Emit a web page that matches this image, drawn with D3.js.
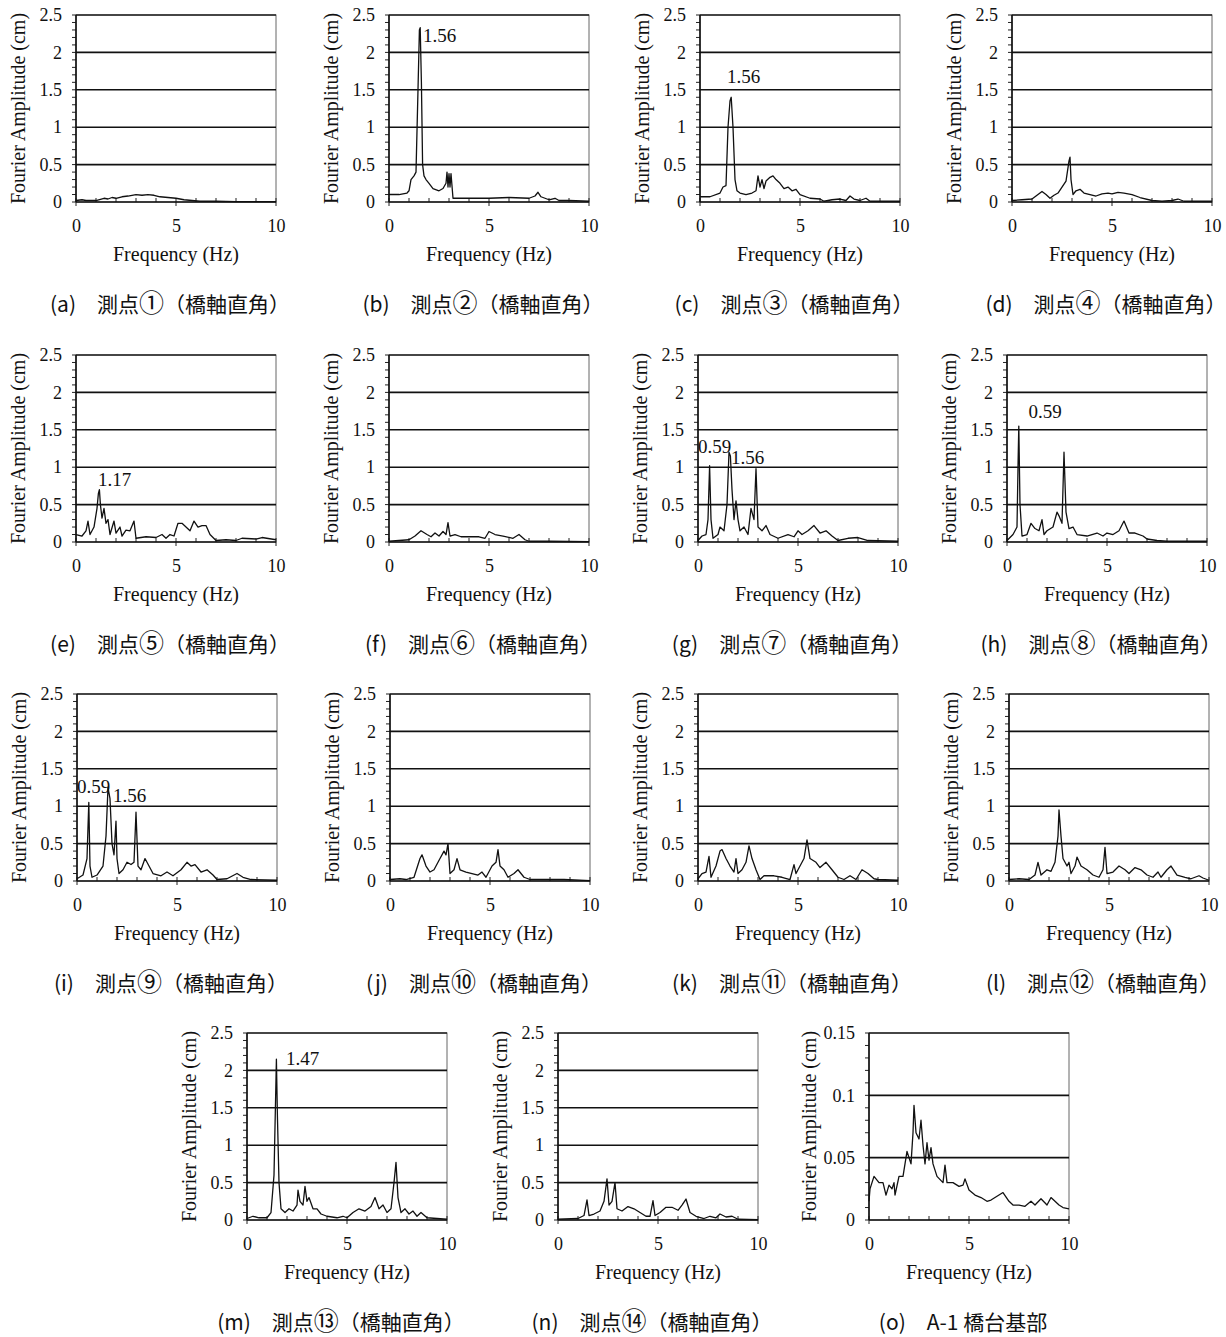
<!DOCTYPE html>
<html><head><meta charset="utf-8">
<script src="https://cdn.jsdelivr.net/npm/d3@7"></script>
<style>body{margin:0;background:#fff} svg{display:block}</style>
</head><body><svg id="c" width="1226" height="1337"></svg>
<script>
// ---- data: [frequency (Hz), Fourier amplitude (cm)] ----
const seriesA = [[0,0.02],[0.3,0.03],[0.5,0.02],[1,0.02],[1.4,0.05],[1.6,0.04],[1.8,0.06],[2,0.05],[2.3,0.07],[2.6,0.08],[3,0.1],[3.3,0.09],[3.6,0.1],[3.9,0.09],[4.2,0.07],[4.6,0.06],[5,0.05],[5.4,0.03],[5.8,0.02],[6.2,0.01],[7,0.01],[8,0.005],[9,0.005],[10,0.005]];
const seriesB = [[0,0.1],[0.5,0.1],[0.9,0.12],[1.0,0.15],[1.1,0.3],[1.25,0.35],[1.35,0.4],[1.45,1.5],[1.52,2.3],[1.56,2.33],[1.62,1.6],[1.68,0.5],[1.75,0.35],[1.85,0.3],[2.0,0.25],[2.2,0.18],[2.5,0.15],[2.7,0.18],[2.85,0.25],[2.9,0.4],[2.95,0.2],[3.0,0.38],[3.05,0.2],[3.1,0.38],[3.2,0.05],[3.5,0.05],[4,0.05],[5,0.05],[6,0.06],[7,0.05],[7.3,0.08],[7.45,0.13],[7.6,0.07],[8,0.03],[8.3,0.05],[8.5,0.02],[9,0.02],[10,0.01]];
const seriesC = [[0,0.07],[0.5,0.07],[1.0,0.12],[1.15,0.2],[1.3,0.22],[1.4,1.0],[1.5,1.35],[1.56,1.4],[1.65,1.0],[1.75,0.3],[1.85,0.15],[2,0.12],[2.3,0.1],[2.6,0.12],[2.8,0.15],[2.9,0.35],[3.0,0.2],[3.1,0.3],[3.2,0.18],[3.3,0.28],[3.5,0.33],[3.65,0.35],[3.8,0.3],[4.0,0.25],[4.2,0.18],[4.4,0.2],[4.6,0.15],[4.8,0.17],[5,0.1],[5.5,0.05],[6,0.04],[6.2,0.01],[6.6,0.03],[7.0,0.04],[7.3,0.02],[7.5,0.08],[7.7,0.04],[8,0.02],[8.3,0.05],[8.5,0.01],[9,0.01],[10,0.01]];
const seriesD = [[0,0.02],[0.5,0.03],[1,0.04],[1.2,0.08],[1.5,0.14],[1.7,0.1],[1.9,0.05],[2.1,0.09],[2.3,0.12],[2.5,0.2],[2.7,0.28],[2.85,0.55],[2.9,0.6],[2.95,0.3],[3.05,0.1],[3.2,0.15],[3.4,0.17],[3.6,0.12],[3.9,0.1],[4.2,0.08],[4.5,0.11],[4.8,0.12],[5,0.11],[5.3,0.13],[5.6,0.12],[6,0.1],[6.4,0.06],[7,0.02],[7.5,0.01],[8,0.02],[8.3,0.04],[8.6,0.01],[10,0.01]];
const seriesE = [[0,0.1],[0.3,0.08],[0.5,0.15],[0.6,0.28],[0.7,0.1],[0.9,0.2],[1.05,0.45],[1.12,0.65],[1.17,0.7],[1.22,0.5],[1.3,0.32],[1.4,0.45],[1.5,0.25],[1.6,0.3],[1.7,0.1],[1.9,0.28],[2.0,0.12],[2.2,0.2],[2.3,0.08],[2.5,0.16],[2.7,0.15],[2.9,0.28],[3.0,0.05],[3.5,0.07],[4,0.06],[4.3,0.1],[4.5,0.05],[4.7,0.1],[4.9,0.08],[5.1,0.25],[5.3,0.25],[5.5,0.2],[5.7,0.15],[5.9,0.28],[6.1,0.2],[6.3,0.22],[6.5,0.22],[6.7,0.1],[7,0.02],[7.5,0.03],[8,0.02],[8.3,0.05],[9,0.04],[9.3,0.06],[10,0.03]];
const seriesF = [[0,0.01],[1,0.03],[1.3,0.08],[1.6,0.15],[1.9,0.1],[2.1,0.07],[2.3,0.12],[2.5,0.08],[2.7,0.14],[2.85,0.1],[2.95,0.26],[3.05,0.08],[3.3,0.1],[3.6,0.07],[4,0.07],[4.5,0.07],[4.8,0.05],[5.0,0.14],[5.3,0.1],[5.7,0.08],[6.2,0.05],[6.5,0.1],[6.8,0.03],[7,0.01],[8,0.01],[10,0.005]];
const seriesG = [[0,0.02],[0.2,0.08],[0.4,0.1],[0.5,0.3],[0.58,1.02],[0.65,0.3],[0.75,0.05],[1.0,0.1],[1.1,0.2],[1.3,0.15],[1.45,0.5],[1.55,1.2],[1.62,1.15],[1.7,0.7],[1.8,0.3],[1.9,0.55],[2.0,0.3],[2.1,0.15],[2.3,0.2],[2.5,0.1],[2.65,0.45],[2.8,0.3],[2.9,0.98],[3.0,0.2],[3.2,0.15],[3.4,0.22],[3.6,0.1],[4,0.05],[4.5,0.1],[4.8,0.07],[5.0,0.15],[5.2,0.1],[5.5,0.15],[5.8,0.22],[6.1,0.12],[6.4,0.15],[6.7,0.08],[7,0.02],[7.5,0.05],[8,0.06],[8.5,0.02],[10,0.01]];
const seriesH = [[0,0.02],[0.3,0.1],[0.5,0.2],[0.55,1.0],[0.59,1.55],[0.65,0.5],[0.75,0.08],[1.0,0.1],[1.2,0.25],[1.4,0.18],[1.6,0.15],[1.75,0.3],[1.85,0.1],[2.0,0.15],[2.3,0.2],[2.5,0.4],[2.6,0.35],[2.75,0.25],[2.85,1.2],[2.95,0.4],[3.1,0.18],[3.3,0.2],[3.5,0.1],[4,0.08],[4.5,0.12],[4.8,0.08],[5.0,0.12],[5.3,0.1],[5.6,0.15],[5.85,0.28],[6.1,0.12],[6.4,0.12],[6.8,0.08],[7,0.04],[7.5,0.02],[8,0.01],[10,0.01]];
const seriesI = [[0,0.03],[0.3,0.08],[0.5,0.3],[0.59,1.05],[0.65,0.2],[0.75,0.05],[1.0,0.08],[1.3,0.2],[1.45,0.6],[1.55,1.25],[1.65,1.1],[1.75,0.5],[1.85,0.35],[1.95,0.8],[2.0,0.3],[2.1,0.1],[2.3,0.15],[2.5,0.25],[2.7,0.22],[2.85,0.25],[2.95,0.92],[3.05,0.2],[3.2,0.15],[3.4,0.3],[3.6,0.2],[3.8,0.1],[4.2,0.07],[4.5,0.12],[4.8,0.07],[5.2,0.15],[5.5,0.25],[5.7,0.2],[5.9,0.22],[6.2,0.12],[6.5,0.15],[6.8,0.08],[7,0.02],[7.5,0.03],[8,0.1],[8.3,0.05],[8.7,0.02],[10,0.01]];
const seriesJ = [[0,0.02],[0.5,0.03],[0.8,0.02],[1.2,0.05],[1.5,0.3],[1.6,0.35],[1.8,0.2],[2.0,0.12],[2.2,0.15],[2.5,0.3],[2.7,0.4],[2.8,0.35],[2.9,0.5],[3.0,0.1],[3.2,0.15],[3.35,0.3],[3.5,0.15],[3.8,0.12],[4.1,0.1],[4.4,0.08],[4.6,0.12],[4.8,0.05],[5.1,0.2],[5.3,0.25],[5.4,0.42],[5.5,0.2],[5.7,0.15],[5.9,0.05],[6.2,0.1],[6.4,0.15],[6.7,0.05],[7,0.02],[7.5,0.02],[8,0.02],[8.7,0.02],[10,0.005]];
const seriesK = [[0,0.03],[0.2,0.1],[0.4,0.12],[0.55,0.33],[0.65,0.05],[0.9,0.2],[1.1,0.4],[1.2,0.42],[1.4,0.3],[1.6,0.2],[1.8,0.12],[1.9,0.3],[2.0,0.1],[2.2,0.15],[2.4,0.25],[2.55,0.47],[2.7,0.3],[2.9,0.15],[3.1,0.02],[3.3,0.07],[3.8,0.07],[4.2,0.05],[4.6,0.02],[4.8,0.22],[4.9,0.1],[5.1,0.2],[5.3,0.3],[5.45,0.55],[5.6,0.3],[5.9,0.25],[6.1,0.18],[6.4,0.25],[6.7,0.15],[7,0.05],[7.3,0.02],[7.6,0.07],[7.9,0.02],[8.2,0.15],[8.5,0.1],[8.8,0.03],[9,0.02],[10,0.01]];
const seriesL = [[0,0.02],[0.5,0.03],[1,0.02],[1.3,0.08],[1.45,0.25],[1.6,0.08],[1.9,0.15],[2.1,0.13],[2.3,0.25],[2.45,0.6],[2.5,0.95],[2.6,0.6],[2.7,0.3],[2.9,0.2],[3.0,0.25],[3.1,0.1],[3.3,0.2],[3.4,0.32],[3.6,0.2],[3.9,0.15],[4.2,0.08],[4.5,0.05],[4.7,0.15],[4.8,0.45],[4.9,0.1],[5.2,0.12],[5.5,0.2],[5.8,0.15],[6,0.1],[6.3,0.18],[6.6,0.15],[6.9,0.08],[7.2,0.05],[7.45,0.12],[7.6,0.05],[7.9,0.15],[8.1,0.2],[8.4,0.08],[8.8,0.05],[9.1,0.03],[9.5,0.07],[9.7,0.04],[10,0.01]];
const seriesM = [[0,0.02],[0.3,0.05],[0.6,0.03],[1.0,0.03],[1.2,0.1],[1.35,0.6],[1.42,1.5],[1.47,2.15],[1.52,1.4],[1.6,0.5],[1.7,0.15],[1.9,0.1],[2.1,0.15],[2.3,0.12],[2.5,0.2],[2.55,0.4],[2.65,0.25],[2.8,0.2],[2.9,0.45],[3.0,0.25],[3.1,0.3],[3.3,0.15],[3.5,0.15],[3.7,0.08],[4,0.05],[4.5,0.03],[4.8,0.05],[5,0.03],[5.3,0.1],[5.6,0.15],[5.9,0.12],[6.2,0.18],[6.4,0.3],[6.6,0.15],[6.8,0.2],[7.0,0.1],[7.2,0.15],[7.35,0.5],[7.45,0.77],[7.55,0.3],[7.7,0.1],[7.9,0.15],[8.1,0.08],[8.3,0.12],[8.5,0.05],[8.7,0.1],[9,0.03],[9.5,0.02],[10,0.01]];
const seriesN = [[0,0.01],[1,0.02],[1.3,0.06],[1.45,0.27],[1.55,0.06],[1.8,0.08],[2.1,0.12],[2.3,0.25],[2.45,0.55],[2.55,0.2],[2.7,0.25],[2.85,0.5],[2.95,0.15],[3.2,0.12],[3.5,0.18],[3.8,0.15],[4.1,0.1],[4.4,0.05],[4.6,0.05],[4.75,0.26],[4.85,0.06],[5.1,0.1],[5.4,0.17],[5.7,0.17],[6,0.13],[6.2,0.2],[6.4,0.28],[6.6,0.1],[6.9,0.05],[7.3,0.02],[7.6,0.05],[7.9,0.03],[8.1,0.08],[8.4,0.04],[8.7,0.05],[9,0.01],[10,0.005]];
const seriesO = [[0,0.015],[0.05,0.025],[0.15,0.03],[0.25,0.035],[0.5,0.03],[0.7,0.03],[0.85,0.02],[1.0,0.028],[1.15,0.025],[1.25,0.03],[1.3,0.02],[1.5,0.035],[1.7,0.035],[1.8,0.045],[1.9,0.055],[2.0,0.05],[2.1,0.045],[2.2,0.07],[2.25,0.092],[2.35,0.07],[2.5,0.065],[2.6,0.08],[2.7,0.06],[2.8,0.045],[2.9,0.062],[3.0,0.048],[3.1,0.058],[3.2,0.045],[3.4,0.035],[3.7,0.03],[3.8,0.044],[3.9,0.03],[4.2,0.03],[4.5,0.027],[4.7,0.028],[4.8,0.033],[5.0,0.024],[5.3,0.02],[5.6,0.018],[5.9,0.015],[6.1,0.016],[6.3,0.018],[6.7,0.022],[7.0,0.015],[7.2,0.012],[7.5,0.012],[7.8,0.011],[8.1,0.015],[8.3,0.012],[8.6,0.017],[8.9,0.012],[9.1,0.018],[9.3,0.015],[9.5,0.012],[9.7,0.01],[10,0.009]];

// captions: [prefix, circled number, suffix]
const captions = [["(a)　測点","①","（橋軸直角）"],["(b)　測点","②","（橋軸直角）"],["(c)　測点","③","（橋軸直角）"],["(d)　測点","④","（橋軸直角）"],
  ["(e)　測点","⑤","（橋軸直角）"],["(f)　測点","⑥","（橋軸直角）"],["(g)　測点","⑦","（橋軸直角）"],["(h)　測点","⑧","（橋軸直角）"],
  ["(i)　測点","⑨","（橋軸直角）"],["(j)　測点","⑩","（橋軸直角）"],["(k)　測点","⑪","（橋軸直角）"],["(l)　測点","⑫","（橋軸直角）"],
  ["(m)　測点","⑬","（橋軸直角）"],["(n)　測点","⑭","（橋軸直角）"],["(o)　A-1 橋台基部","",""]];
// peak labels: [text, frequency, amplitude] of label's left baseline
const peakLabels = {b:[["1.56",1.7,2.14]], c:[["1.56",1.35,1.59]], e:[["1.17",1.1,0.75]],
  g:[["0.59",0.0,1.19],["1.56",1.65,1.04]], h:[["0.59",1.07,1.66]], i:[["0.59",0.0,1.18],["1.56",1.8,1.05]], m:[["1.47",1.95,2.07]]};
const yTicksMain = [0,0.5,1,1.5,2,2.5];
const yTicksBase = [0,0.05,0.1,0.15];
const xTicks = [0,5,10];
const yTitle = "Fourier Amplitude (cm)";
const xTitle = "Frequency (Hz)";

const seriesByKey = {a:seriesA,b:seriesB,c:seriesC,d:seriesD,e:seriesE,f:seriesF,g:seriesG,h:seriesH,i:seriesI,j:seriesJ,k:seriesK,l:seriesL,m:seriesM,n:seriesN,o:seriesO};

// ---- layout ----
const W = 200, H = 187;
const layout = [
  {k:'a',x:76,y:15},{k:'b',x:389,y:15},{k:'c',x:700,y:15},{k:'d',x:1012,y:15},
  {k:'e',x:76,y:355},{k:'f',x:389,y:355},{k:'g',x:698,y:355},{k:'h',x:1007,y:355},
  {k:'i',x:77,y:694},{k:'j',x:390,y:694},{k:'k',x:698,y:694},{k:'l',x:1009,y:694},
  {k:'m',x:247,y:1033},{k:'n',x:558,y:1033},{k:'o',x:869,y:1033}
];
const serif = "'Liberation Serif','Times New Roman',serif";
const svg = d3.select('#c');

layout.forEach((L, idx) => {
  const isBase = L.k === 'o';
  const yTicks = isBase ? yTicksBase : yTicksMain;
  const yMax = yTicks[yTicks.length-1];
  const minorStep = isBase ? 0.01 : 0.1;
  const x = d3.scaleLinear().domain([0,10]).range([0,W]);
  const y = d3.scaleLinear().domain([0,yMax]).range([H,0]);
  const g = svg.append('g').attr('transform',`translate(${L.x},${L.y})`);

  // frame
  g.append('rect').attr('x',0).attr('y',0).attr('width',W).attr('height',H)
    .attr('fill','none').attr('stroke','#666').attr('stroke-width',1);
  // grid
  g.selectAll('.grid').data(yTicks.slice(1,-1)).enter().append('line')
    .attr('x1',0).attr('x2',W).attr('y1',d=>y(d)).attr('y2',d=>y(d))
    .attr('stroke','#111').attr('stroke-width',1.6);
  g.append('line').attr('x1',0).attr('x2',W).attr('y1',0).attr('y2',0).attr('stroke','#222').attr('stroke-width',1.4);

  // minor y ticks
  const nMinor = Math.round(yMax/minorStep);
  g.selectAll('.ym').data(d3.range(0,nMinor+1).map(i=>i*minorStep)).enter().append('line')
    .attr('x1',-4).attr('x2',0).attr('y1',d=>y(d)).attr('y2',d=>y(d))
    .attr('stroke','#222').attr('stroke-width',1);
  // minor x ticks
  g.selectAll('.xm').data(d3.range(0,11)).enter().append('line')
    .attr('x1',d=>x(d)).attr('x2',d=>x(d)).attr('y1',H-4)
    .attr('y2',d=> (d%5===0)? H+4 : H)
    .attr('stroke','#222').attr('stroke-width',1);

  // data line
  g.append('path').datum(seriesByKey[L.k])
    .attr('d', d3.line().x(d=>x(d[0])).y(d=>y(d[1])))
    .attr('fill','none').attr('stroke','#111').attr('stroke-width',1.3).attr('stroke-linejoin','round');

  // axes
  const ya = g.append('g').call(d3.axisLeft(y).tickValues(yTicks).tickSize(0).tickPadding(14).tickFormat(d=>String(+d.toFixed(2))));
  ya.select('.domain').remove();
  ya.selectAll('text').attr('font-family',serif).attr('font-size',18).attr('fill','#111');
  const xa = g.append('g').attr('transform',`translate(0,${H})`).call(d3.axisBottom(x).tickValues(xTicks).tickSize(0).tickPadding(17));
  xa.select('.domain').remove();
  xa.selectAll('text').attr('font-family',serif).attr('font-size',18).attr('fill','#111');
  g.append('line').attr('x1',0).attr('x2',0).attr('y1',0).attr('y2',H).attr('stroke','#111').attr('stroke-width',1.6);
  g.append('line').attr('x1',0).attr('x2',W).attr('y1',H).attr('y2',H).attr('stroke','#111').attr('stroke-width',1.6);

  // titles
  g.append('text').attr('transform',`translate(${isBase?-60:-58},${H/2}) rotate(-90)`)
    .attr('text-anchor','middle').attr('dominant-baseline','central')
    .attr('font-family',serif).attr('font-size',20).attr('fill','#111').text(yTitle);
  g.append('text').attr('x',W/2).attr('y',H+59).attr('text-anchor','middle')
    .attr('font-family',serif).attr('font-size',20).attr('fill','#111').text(xTitle);

  // peak labels
  (peakLabels[L.k]||[]).forEach(p => {
    g.append('text').attr('x',x(p[1])).attr('y',y(p[2]))
      .attr('font-family',serif).attr('font-size',19).attr('fill','#111').text(p[0]);
  });

  // caption
  const cap = captions[idx];
  const ct = g.append('text').attr('x',W/2-6).attr('y',H+110).attr('text-anchor','middle')
    .attr('font-family',"'Noto Sans CJK JP','Noto Sans',sans-serif").attr('font-size',21).attr('fill','#111');
  ct.append('tspan').text(cap[0]);
  if (cap[1]) ct.append('tspan').attr('font-size',25).text(cap[1]);
  if (cap[2]) ct.append('tspan').text(cap[2]);
});
</script></body></html>
